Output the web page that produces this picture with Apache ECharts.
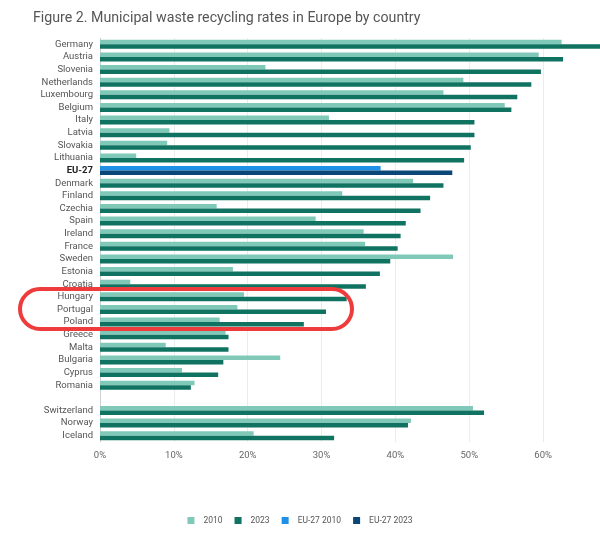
<!DOCTYPE html>
<html>
<head>
<meta charset="utf-8">
<script src="https://cdn.jsdelivr.net/npm/echarts@6/dist/echarts.min.js"></script>
<style>
  html, body { margin: 0; padding: 0; background: #fff; }
  #chart { width: 600px; height: 550px; }
</style>
</head>
<body>
<div id="chart"></div>
<script>
// 国家（空字符串为瑞士前的空行）
const countries = [
  'Germany', 'Austria', 'Slovenia', 'Netherlands', 'Luxembourg', 'Belgium',
  'Italy', 'Latvia', 'Slovakia', 'Lithuania', 'EU-27', 'Denmark', 'Finland',
  'Czechia', 'Spain', 'Ireland', 'France', 'Sweden', 'Estonia', 'Croatia',
  'Hungary', 'Portugal', 'Poland', 'Greece', 'Malta', 'Bulgaria', 'Cyprus',
  'Romania', '', 'Switzerland', 'Norway', 'Iceland'
];

// 回收率 (%)
const rate2010 = [
  62.5, 59.4, 22.4, 49.2, 46.5, 54.8, 31.0, 9.4, 9.1, 4.9, 38.0, 42.4, 32.8,
  15.8, 29.2, 35.7, 35.9, 47.8, 18.0, 4.1, 19.5, 18.6, 16.2, 17.0, 8.9, 24.4,
  11.1, 12.8, null, 50.5, 42.1, 20.8
];
const rate2023 = [
  69.0, 62.7, 59.7, 58.4, 56.5, 55.7, 50.7, 50.7, 50.2, 49.3, 47.7, 46.5, 44.7,
  43.4, 41.4, 40.7, 40.3, 39.3, 37.9, 36.0, 33.4, 30.6, 27.6, 17.4, 17.4, 16.7,
  16.0, 12.3, null, 52.0, 41.7, 31.7
];

const xTicks = [0, 10, 20, 30, 40, 50, 60];

const EU = 'EU-27';
const isEU = (i) => countries[i] === EU;

// 普通国家与EU-27分开，用stack保持同一位置
const pick = (arr, wantEU) =>
  arr.map((v, i) => (v === null || isEU(i) !== wantEU ? '-' : v));

const chart = echarts.init(document.getElementById('chart'));

const barBase = { type: 'bar', barWidth: 4.5, barGap: '0%', barCategoryGap: '30%' };

chart.setOption({
  animation: false,
  textStyle: { fontFamily: 'Roboto, sans-serif' },
  title: {
    text: 'Figure 2. Municipal waste recycling rates in Europe by country',
    left: 28,
    top: 6,
    textStyle: { fontSize: 14.2, fontWeight: 'normal', color: '#555' }
  },
  legend: {
    bottom: 20,
    left: 'center',
    icon: 'rect',
    itemWidth: 7,
    itemHeight: 7,
    itemGap: 12,
    textStyle: { fontSize: 8.5, color: '#555', padding: [0, 0, 0, 4] },
    data: ['2010', '2023', 'EU-27 2010', 'EU-27 2023']
  },
  grid: { left: 100, right: 0, top: 38, bottom: 108 },
  xAxis: {
    type: 'value',
    min: 0,
    max: 67.7,
    interval: 10,
    axisLine: { show: false },
    axisTick: { show: false },
    splitLine: { lineStyle: { color: '#ececec' } },
    axisLabel: {
      fontSize: 9.5,
      color: '#666',
      margin: 9,
      showMaxLabel: false,
      formatter: (v) => (xTicks.includes(v) ? v + '%' : '')
    }
  },
  yAxis: {
    type: 'category',
    inverse: true,
    data: countries,
    axisTick: { show: false },
    axisLine: { lineStyle: { color: '#d0d0d0' } },
    axisLabel: {
      interval: 0,
      fontSize: 9.5,
      color: '#555',
      margin: 7,
      formatter: (v) => (v === EU ? '{b|' + v + '}' : v),
      rich: { b: { fontSize: 9.5, fontWeight: 'bold', color: '#222' } }
    }
  },
  series: [
    { ...barBase, name: '2010', stack: 'a', data: pick(rate2010, false), itemStyle: { color: '#80c9b8' } },
    { ...barBase, name: '2023', stack: 'b', data: pick(rate2023, false), itemStyle: { color: '#107362' } },
    { ...barBase, name: 'EU-27 2010', stack: 'a', data: pick(rate2010, true), itemStyle: { color: '#1e90e6' } },
    { ...barBase, name: 'EU-27 2023', stack: 'b', data: pick(rate2023, true), itemStyle: { color: '#0b4678' } }
  ],
  graphic: [
    {
      type: 'rect',
      z: 100,
      shape: { x: 20, y: 289, width: 332, height: 40, r: 20 },
      style: { fill: 'none', stroke: '#ee3b3b', lineWidth: 4 }
    }
  ]
});
</script>
</body>
</html>
